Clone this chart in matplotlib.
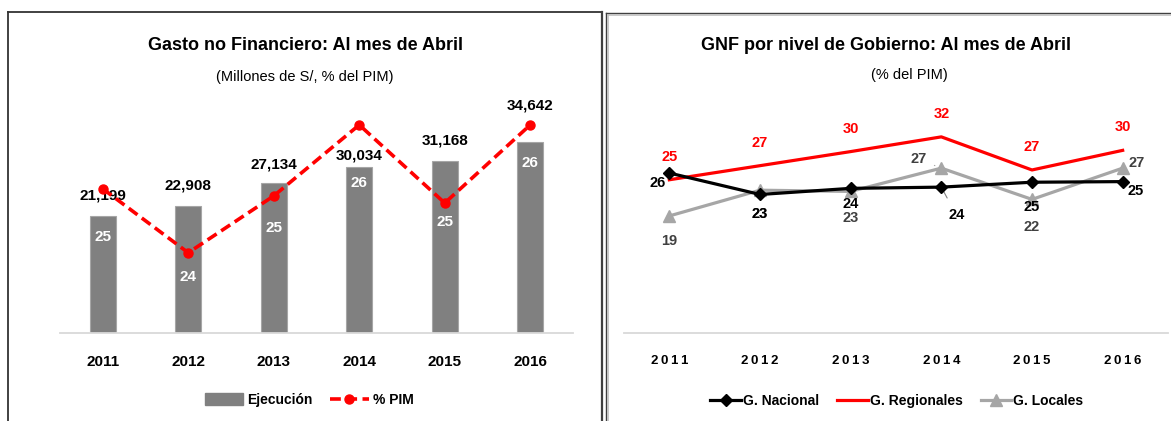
import matplotlib
matplotlib.use('Agg')
import matplotlib.pyplot as plt
from matplotlib.lines import Line2D
from matplotlib.patches import Patch
import numpy as np

plt.rcParams['font.family'] = ['Liberation Sans', 'DejaVu Sans']

years = ['2011', '2012', '2013', '2014', '2015', '2016']
ejecucion = [21199, 22908, 27134, 30034, 31168, 34642]
pct_pim = [24.8, 23.9, 24.7, 25.7, 24.6, 25.7]

g_nacional = [26.1, 22.6, 23.6, 23.8, 24.6, 24.7]
g_regionales = [25.0, 27.3, 29.6, 32.0, 26.6, 29.8]
g_locales = [19.1, 23.3, 23.1, 26.9, 21.8, 26.9]

W, H = 1171, 421
fig = plt.figure(figsize=(W / 100, H / 100), dpi=100)


def fx(px):
    return px / W


def fy(py):
    return 1 - py / H


# panel frames
fig.add_artist(Line2D([fx(8), fx(8)], [fy(12), fy(421)], color='#333333', lw=1.3))
fig.add_artist(Line2D([fx(8), fx(602)], [fy(12), fy(12)], color='#333333', lw=1.3))
fig.add_artist(Line2D([fx(602), fx(602)], [fy(12), fy(421)], color='#404040', lw=1.6))
fig.add_artist(Line2D([fx(606), fx(606)], [fy(13), fy(421)], color='#404040', lw=1.0))
fig.add_artist(Line2D([fx(608), fx(608)], [fy(15), fy(421)], color='#c0c0c0', lw=1.2))
fig.add_artist(Line2D([fx(606), fx(1171)], [fy(13), fy(13)], color='#404040', lw=1.0))
fig.add_artist(Line2D([fx(608), fx(1171)], [fy(15), fy(15)], color='#c0c0c0', lw=1.2))

x = np.arange(len(years))

# ---------- left chart ----------
ax = fig.add_axes([fx(60), fy(333), fx(513), 228 / H])
ax.bar(x, ejecucion, width=0.30, color='#808080', edgecolor='#a6a6a6', lw=0.8, zorder=2)
ax.set_xlim(-0.5, 5.5)
ax.set_ylim(0, 41270)
for s in ['top', 'right', 'left']:
    ax.spines[s].set_visible(False)
ax.spines['bottom'].set_color('#d9d9d9')
ax.spines['bottom'].set_linewidth(1.3)
ax.set_yticks([])
ax.set_xticks(x)
ax.set_xticklabels(years, fontsize=11, fontweight='bold')
ax.tick_params(axis='x', length=0, pad=16)

bar_offsets = [20, 21, 19, 12, 20, 36]
for i, v in enumerate(ejecucion):
    ax.annotate(f'{v:,}', (x[i], v), xytext=(0, bar_offsets[i] * 0.72),
                textcoords='offset points', ha='center', va='center',
                fontsize=11, fontweight='bold', color='black', zorder=5)

ax2 = ax.twinx()
ax2.plot(x, pct_pim, color='#ff0000', lw=2.6, dashes=(3, 1.5),
         marker='o', markersize=6.5, zorder=4)
ax2.set_ylim(22.77, 25.98)
ax2.set_yticks([])
for s in ['top', 'right', 'left', 'bottom']:
    ax2.spines[s].set_visible(False)
pim_offsets = [48, 24, 32, 58, 19, 38]
for i, v in enumerate(pct_pim):
    ax2.annotate(f'{v:.0f}', (x[i], v), xytext=(0, -pim_offsets[i] * 0.72),
                 textcoords='offset points', ha='center', va='center',
                 fontsize=11, fontweight='bold', color='white', zorder=5)

fig.text(fx(305), fy(45), 'Gasto no Financiero: Al mes de Abril', ha='center', va='center',
         fontsize=13, fontweight='bold')
fig.text(fx(305), fy(77), '(Millones de S/, % del PIM)', ha='center', va='center',
         fontsize=10.5)

h1 = [Patch(facecolor='#808080', edgecolor='#808080'),
      Line2D([], [], color='#ff0000', lw=2.6, dashes=(3, 1.5), marker='o', markersize=6.5)]
fig.legend(h1, ['Ejecución', '% PIM'], loc='center', bbox_to_anchor=(fx(309), fy(400)),
           ncol=2, frameon=False, prop={'size': 10, 'weight': 'bold'},
           handlelength=2.8, handleheight=0.9, columnspacing=1.2, handletextpad=0.3)

# ---------- right chart ----------
ar = fig.add_axes([fx(624), fy(333), fx(544), 228 / H])
ar.plot(x, g_regionales, color='#ff0000', lw=2.3, zorder=2)
ar.plot(x, g_locales, color='#a6a6a6', lw=2.3, marker='^', markersize=8, zorder=3)
ar.plot(x, g_nacional, color='black', lw=2.3, marker='D', markersize=6, zorder=4)
ar.set_xlim(-0.5, 5.5)
ar.set_ylim(0, 37.2)
for s in ['top', 'right', 'left']:
    ar.spines[s].set_visible(False)
ar.spines['bottom'].set_color('#d9d9d9')
ar.spines['bottom'].set_linewidth(1.3)
ar.set_yticks([])
ar.set_xticks(x)
ar.set_xticklabels(['\u2009'.join(y) for y in years], fontsize=9.5, fontweight='bold')
ar.tick_params(axis='x', length=0, pad=16)

for i, v in enumerate(g_regionales):
    ar.annotate(f'{v:.0f}', (x[i], v), xytext=(0, 23 * 0.72), textcoords='offset points',
                ha='center', va='center', fontsize=10.5, fontweight='bold', color='#ff0000')

loc_off = [(0, -25), (0, -24), (0, -27), (-23, 9), (0, -28), (14, 5)]
for i, v in enumerate(g_locales):
    dx, dy = loc_off[i]
    kw = {}
    if i == 3:
        kw['arrowprops'] = dict(arrowstyle='-', color='#a6a6a6', lw=0.8, shrinkA=4, shrinkB=5)
    ar.annotate(f'{v:.0f}', (x[i], v), xytext=(dx * 0.72, dy * 0.72), textcoords='offset points',
                ha='center', va='center', fontsize=10.5, fontweight='bold', color='#404040', **kw)

nac_off = [(-12, -10), (0, -20), (0, -16), (15, -28), (0, -25), (13, -9)]
for i, v in enumerate(g_nacional):
    dx, dy = nac_off[i]
    kw = {}
    if i == 3:
        kw['arrowprops'] = dict(arrowstyle='-', color='#808080', lw=0.8, shrinkA=6, shrinkB=3)
    ar.annotate(f'{v:.0f}', (x[i], v), xytext=(dx * 0.72, dy * 0.72), textcoords='offset points',
                ha='center', va='center', fontsize=10.5, fontweight='bold', color='black', **kw)

fig.text(fx(886), fy(45), 'GNF por nivel de Gobierno: Al mes de Abril', ha='center', va='center',
         fontsize=13, fontweight='bold')
fig.text(fx(909), fy(75), '(% del PIM)', ha='center', va='center', fontsize=10.5)

h2 = [Line2D([], [], color='black', lw=2.3, marker='D', markersize=6),
      Line2D([], [], color='#ff0000', lw=2.3),
      Line2D([], [], color='#a6a6a6', lw=2.3, marker='^', markersize=8)]
fig.legend(h2, ['G. Nacional', 'G. Regionales', 'G. Locales'], loc='center',
           bbox_to_anchor=(fx(897), fy(401)), ncol=3, frameon=False,
           prop={'size': 10, 'weight': 'bold'}, handlelength=2.2,
           columnspacing=1.3, handletextpad=0.15)

fig.savefig('out.png', dpi=100)
